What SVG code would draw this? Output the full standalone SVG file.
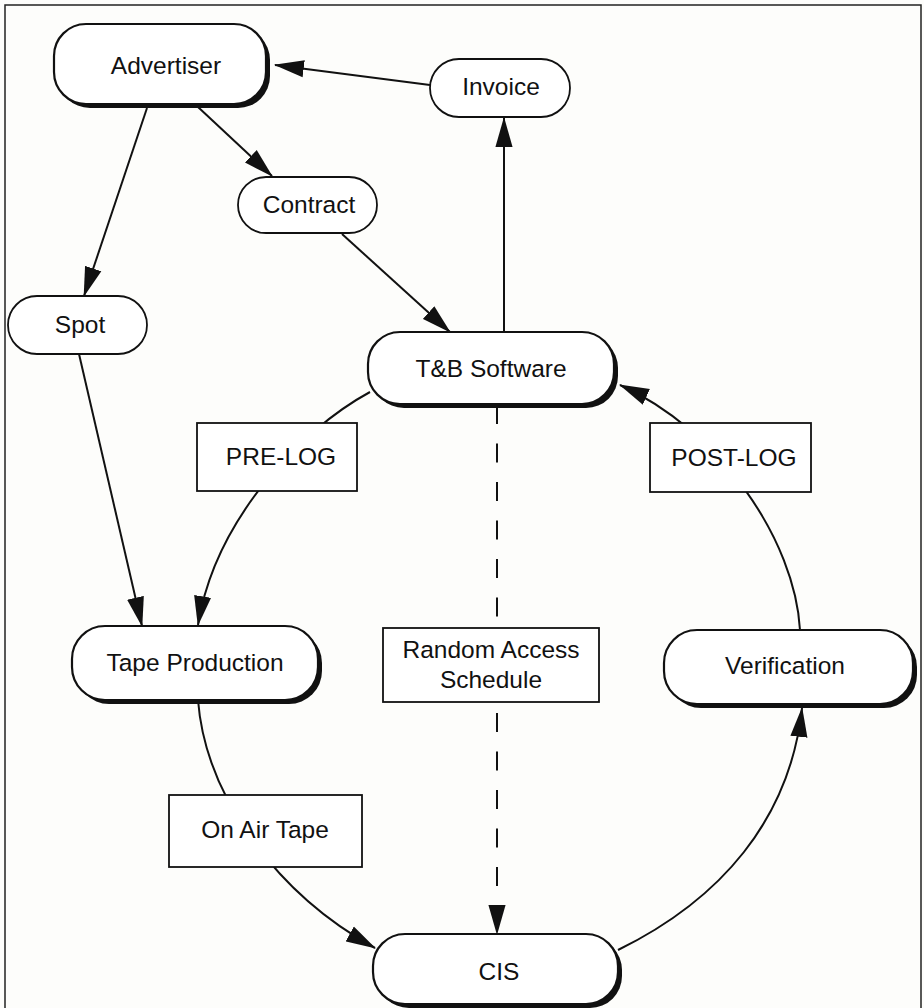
<svg xmlns="http://www.w3.org/2000/svg" width="924" height="1008" viewBox="0 0 924 1008">
<defs>
<style>
.bg{fill:#fdfdfb}
.frame{fill:none;stroke:#222;stroke-width:1.5}
.edge{fill:none;stroke:#111;stroke-width:2}
.dash{stroke-dasharray:19 19.5}
.shadow{fill:#111}
.big{fill:#fff;stroke:#111;stroke-width:2.2}
.small{fill:#fff;stroke:#111;stroke-width:1.8}
.box{fill:#fff;stroke:#111;stroke-width:1.8}
text{font-family:"Liberation Sans",Arial,Helvetica,sans-serif;font-size:24.5px;fill:#111;text-anchor:middle}
</style>
<marker id="arr" markerUnits="userSpaceOnUse" markerWidth="30" markerHeight="18" viewBox="0 0 28 16" refX="27" refY="8" orient="auto">
<path d="M0,0 L28,8 L0,16 z" fill="#111"/>
</marker>
</defs>
<rect class="bg" x="0" y="0" width="924" height="1008"/>
<path class="frame" d="M5,1008 L5,5 L921,5 L921,1008"/>

<g id="connectors">
<path class="edge" d="M430,85 L275,65" marker-end="url(#arr)"/>
<path class="edge" d="M147,108 L84,296" marker-end="url(#arr)"/>
<path class="edge" d="M198,107 L272,176" marker-end="url(#arr)"/>
<path class="edge" d="M342,234 L450,332" marker-end="url(#arr)"/>
<path class="edge" d="M504,332 L504,118" marker-end="url(#arr)"/>
<path class="edge" d="M79,354 L142,626" marker-end="url(#arr)"/>
<path class="edge" d="M370,392 C300,430 215,520 198,625" marker-end="url(#arr)"/>
<path class="edge" d="M198,700 C205,790 270,890 375,948" marker-end="url(#arr)"/>
<path class="edge" d="M618,950 C720,900 790,820 802,708" marker-end="url(#arr)"/>
<path class="edge" d="M800,630 C795,540 720,430 620,385" marker-end="url(#arr)"/>
<path class="edge dash" d="M497,405 L497,934" marker-end="url(#arr)"/>
</g>

<g id="advertiser">
<rect class="shadow" x="58" y="28" width="212" height="80" rx="32"/>
<rect class="big" x="54" y="24" width="212" height="80" rx="32"/>
<text x="166" y="74">Advertiser</text>
</g>
<g id="invoice">
<rect class="small" x="430" y="59" width="140" height="58" rx="29"/>
<text x="501" y="95">Invoice</text>
</g>
<g id="contract">
<rect class="small" x="238" y="177" width="139" height="56" rx="28"/>
<text x="309" y="213">Contract</text>
</g>
<g id="spot">
<rect class="small" x="8" y="296" width="139" height="58" rx="29"/>
<text x="80" y="333">Spot</text>
</g>
<g id="tb-software">
<rect class="shadow" x="372" y="336" width="246" height="72" rx="32"/>
<rect class="big" x="368" y="332" width="246" height="72" rx="32"/>
<text x="491" y="377">T&amp;B Software</text>
</g>
<g id="pre-log">
<rect class="box" x="197" y="423" width="160" height="68"/>
<text x="281" y="465">PRE-LOG</text>
</g>
<g id="post-log">
<rect class="box" x="650" y="423" width="161" height="69"/>
<text x="734" y="466">POST-LOG</text>
</g>
<g id="tape-production">
<rect class="shadow" x="76" y="630" width="246" height="74" rx="33"/>
<rect class="big" x="72" y="626" width="246" height="74" rx="33"/>
<text x="195" y="671">Tape Production</text>
</g>
<g id="random-access">
<rect class="box" x="383" y="628" width="216" height="74"/>
<text x="491" y="658">Random Access</text>
<text x="491" y="688">Schedule</text>
</g>
<g id="verification">
<rect class="shadow" x="668" y="634" width="249" height="74" rx="33"/>
<rect class="big" x="664" y="630" width="249" height="74" rx="33"/>
<text x="785" y="674">Verification</text>
</g>
<g id="on-air-tape">
<rect class="box" x="169" y="795" width="193" height="72"/>
<text x="265" y="838">On Air Tape</text>
</g>
<g id="cis">
<rect class="shadow" x="377" y="938" width="245" height="70" rx="32"/>
<rect class="big" x="373" y="934" width="245" height="70" rx="32"/>
<text x="499" y="980">CIS</text>
</g>
</svg>
